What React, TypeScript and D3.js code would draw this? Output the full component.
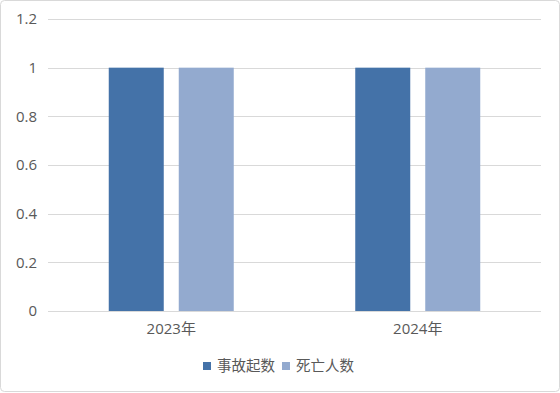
import React from "react";
import * as d3 from "d3";

const categories = ["2023年", "2024年"];
const seriesNames = ["事故起数", "死亡人数"];
const seriesA = [1, 1];
const seriesB = [1, 1];
const yTicks = [0, 0.2, 0.4, 0.6, 0.8, 1, 1.2];
const colors = ["#4472A8", "#93AACF"];

export default function App() {
  const W = 560, H = 393;
  const left = 48, right = 541, top = 19, bottom = 311;
  const x = d3.scaleBand().domain(categories).range([left, right]);
  const y = d3.scaleLinear().domain([0, 1.2]).range([bottom, top]);
  const barW = 55, gap = 15;
  const series = [seriesA, seriesB];
  const font = "'Open Sans', 'Noto Sans CJK SC', sans-serif";
  return (
    <svg width={W} height={H} style={{ position: "absolute", left: 0, top: 0 }}>
      <rect x={0.5} y={0.5} width={W - 1} height={H - 2} rx={4} fill="#fff" stroke="#D9D9D9" />
      {yTicks.map((t) => (
        <g key={t}>
          <line x1={left} x2={right} y1={Math.round(y(t)) + 0.5} y2={Math.round(y(t)) + 0.5} stroke="#D9D9D9" strokeWidth={1} />
          <text x={37} y={y(t)} dy="0.35em" textAnchor="end" fontSize={15} fill="#595959" fontFamily={font}>
            {d3.format("~g")(t)}
          </text>
        </g>
      ))}
      {categories.map((c, i) => {
        const cx = (x(c) as number) + x.bandwidth() / 2;
        const start = cx - (barW * 2 + gap) / 2;
        return (
          <g key={c}>
            {series.map((s, j) => (
              <rect key={j} x={start + j * (barW + gap)} y={y(s[i])} width={barW} height={y(0) - y(s[i])} fill={colors[j]} />
            ))}
            <text x={cx} y={329} dy="0.35em" textAnchor="middle" fontSize={15} fill="#595959" fontFamily={font}>
              {c}
            </text>
          </g>
        );
      })}
      <g>
        {seriesNames.map((n, j) => {
          const lx = 203 + j * 79;
          return (
            <g key={n}>
              <rect x={lx} y={362} width={8} height={8} fill={colors[j]} />
              <text x={lx + 14} y={366} dy="0.35em" fontSize={14.5} fill="#595959" fontFamily="'Noto Sans CJK SC', sans-serif">
                {n}
              </text>
            </g>
          );
        })}
      </g>
    </svg>
  );
}
